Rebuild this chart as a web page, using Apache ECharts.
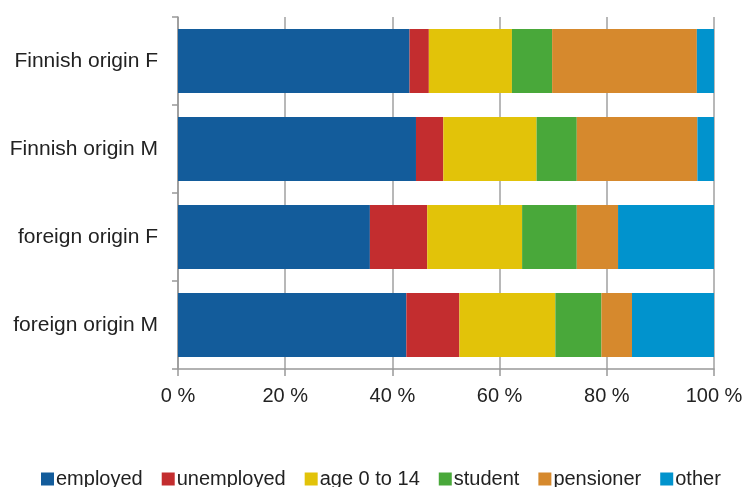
<!DOCTYPE html>
<html><head><meta charset="utf-8">
<script src="https://cdn.jsdelivr.net/npm/echarts@6/dist/echarts.min.js"></script>
<style>html,body{margin:0;padding:0;background:#fff}#c{width:743px;height:487px}</style>
</head><body><div id="c"></div>
<script>
const categories = ["Finnish origin F", "Finnish origin M", "foreign origin F", "foreign origin M"];
const seriesNames = ["employed", "unemployed", "age 0 to 14", "student", "pensioner", "other"];
const employed   = [43.2, 44.4, 35.8, 42.6];
const unemployed = [3.6, 5.1, 10.7, 9.9];
const age0to14   = [15.5, 17.4, 17.7, 17.9];
const student    = [7.5, 7.5, 10.2, 8.6];
const pensioner  = [27.0, 22.5, 7.7, 5.7];
const other      = [3.2, 3.1, 17.9, 15.3];
const xTicks = [0, 20, 40, 60, 80, 100];
const colors = ["#135c9b", "#c32d2f", "#e2c309", "#49a83a", "#d6892d", "#0193cd"];
const values = [employed, unemployed, age0to14, student, pensioner, other];

const chart = echarts.init(document.getElementById('c'));
chart.setOption({
  animation: false,
  textStyle: {fontFamily: 'Liberation Sans'},
  grid: {left: 178, right: 29, top: 17, bottom: 118, containLabel: false, outerBoundsMode: 'none'},
  legend: {
    top: 469, left: 41, itemWidth: 13, itemHeight: 13, itemGap: 19,
    padding: 0, icon: 'rect',
    textStyle: {fontSize: 20, color: '#222', fontFamily: 'Liberation Sans', padding: [0, 0, 0, -3]},
    data: seriesNames
  },
  xAxis: {
    type: 'value', min: xTicks[0], max: xTicks[xTicks.length - 1], interval: 20,
    axisLine: {show: true, lineStyle: {color: '#999', width: 1.5}},
    axisTick: {show: true, length: 7, lineStyle: {color: '#999', width: 1.5}},
    splitLine: {show: true, lineStyle: {color: '#a0a0a0', width: 1.5}},
    axisLabel: {formatter: '{value} %', fontSize: 20, color: '#222', margin: 17}
  },
  yAxis: {
    type: 'category', data: categories, inverse: true,
    axisLine: {show: true, lineStyle: {color: '#999', width: 1.5}},
    axisTick: {show: true, length: 6, lineStyle: {color: '#999', width: 1.5}},
    axisLabel: {fontSize: 21, color: '#222', margin: 20}
  },
  color: colors,
  series: seriesNames.map((n, i) => ({
    name: n, type: 'bar', stack: 'total', data: values[i],
    barCategoryGap: '27%',
    itemStyle: {color: colors[i]}
  }))
});
</script></body></html>
